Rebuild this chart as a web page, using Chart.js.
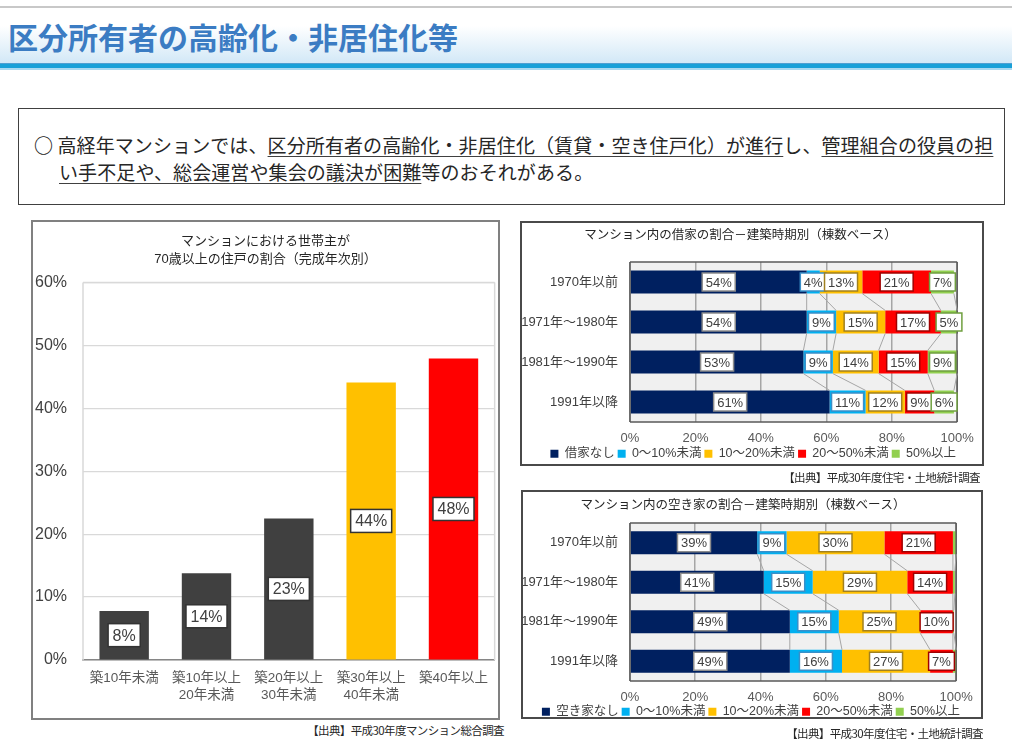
<!DOCTYPE html>
<html lang="ja">
<head>
<meta charset="utf-8">
<title>区分所有者の高齢化・非居住化等</title>
<script src="https://cdn.jsdelivr.net/npm/chart.js@4.4.1/dist/chart.umd.min.js"></script>
<style>
  html, body { margin: 0; padding: 0; background: #fff; }
  body { width: 1012px; height: 746px; position: relative; overflow: hidden;
         font-family: 'Noto Sans CJK JP', sans-serif; color: #262626; }
  .abs { position: absolute; }
  .topline { left: 0; top: 6px; width: 1012px; height: 2px; background: #c8c8c8; }
  .band { left: 0; top: 26px; width: 1012px; height: 37px; background: linear-gradient(#ffffff, #d2e8f7); }
  .rule { left: 0; top: 63px; width: 1012px; height: 4px; background: #18a0d8;
          border-top: 1px solid #4f9fd2; border-bottom: 2px solid #a9d9f1; }
  h1 { position: absolute; left: 8px; top: 14px; margin: 0; font-size: 30px; font-weight: bold;
       color: #3b7cc3; line-height: 44px; white-space: nowrap; }
  .note { left: 18px; top: 108px; width: 987px; height: 97px; box-sizing: border-box;
          border: 1.5px solid #404040; font-size: 19px; line-height: 27px; letter-spacing: 0.1px;
          padding: 22px 0 0 40px; text-indent: -25px; white-space: nowrap; }
  .note b { font-weight: bold; }
  .note u { text-decoration-color: #404040; text-underline-offset: 3px; }
  .frame { box-sizing: border-box; }
  .wrap { position: absolute; }
  .src { font-size: 11.5px; letter-spacing: -0.6px; white-space: nowrap; text-align: right; line-height: 14px; }
</style>
</head>
<body>
<div class="abs topline"></div>
<div class="abs band"></div>
<div class="abs rule"></div>
<h1>区分所有者の高齢化・非居住化等</h1>

<div class="abs note"><b>○</b> 高経年マンションでは、<u>区分所有者の高齢化・非居住化（賃貸・空き住戸化）が進行</u>し、<u>管理組合の役員の担</u><br><u>い手不足や、総会運営や集会の議決が困難</u>等のおそれがある。</div>

<div class="abs frame" style="left:31px; top:220px; width:469px; height:500px; border:2px solid #808080;"></div>
<div class="wrap" style="left:33px; top:222px; width:465px; height:496px;"><canvas id="ageChart"></canvas></div>
<div class="abs src" style="right:508px; top:723px;">【出典】平成30年度マンション総合調査</div>

<div class="abs frame" style="left:520px; top:221px; width:464px; height:245px; border:2px solid #4a4a4a;"></div>
<div class="wrap" style="left:522px; top:223px; width:460px; height:247px;"><canvas id="rentChart"></canvas></div>
<div class="abs src" style="right:32px; top:470px;">【出典】平成30年度住宅・土地統計調査</div>

<div class="abs frame" style="left:521px; top:490px; width:462px; height:229px; border:2px solid #4a4a4a;"></div>
<div class="wrap" style="left:523px; top:492px; width:458px; height:236px;"><canvas id="vacantChart"></canvas></div>
<div class="abs src" style="right:29px; top:726px;">【出典】平成30年度住宅・土地統計調査</div>

<script>
const FONT = "'Liberation Sans', 'Noto Sans CJK JP', sans-serif";
Chart.defaults.font.family = FONT;
Chart.defaults.animation = false;

// left chart: share of units whose head of household is 70+, by building age
const ageCategories = [['築10年未満'], ['築10年以上', '20年未満'], ['築20年以上', '30年未満'], ['築30年以上', '40年未満'], ['築40年以上']];
const ageValues = [7.8, 13.8, 22.5, 44.1, 47.9];
const ageColors = ['#404040', '#404040', '#404040', '#FFC000', '#FF0000'];
const ageTicks = [0, 10, 20, 30, 40, 50, 60];

// right charts: build period rows
const periods = ['1970年以前', '1971年～1980年', '1981年～1990年', '1991年以降'];
const bandNames = ['0～10%未満', '10～20%未満', '20～50%未満', '50%以上'];
const bandColors = ['#002060', '#00B0F0', '#FFC000', '#FF0000', '#92D050'];
const bandLabelBorders = ['#8c8c8c', '#3a8fc8', '#a08020', '#a00000', '#6f9f3f'];

// rented units share
const rentNone = [54, 54, 53, 61];
const rent0to10 = [4, 9, 9, 11];
const rent10to20 = [13, 15, 14, 12];
const rent20to50 = [21, 17, 15, 9];
const rent50plus = [7, 5, 9, 6];

// vacant units share
const vacNone = [39, 41, 49, 49];
const vac0to10 = [9, 15, 15, 16];
const vac10to20 = [30, 29, 25, 27];
const vac20to50 = [21, 14, 10, 7];
const vac50plus = [1, 0.6, 0.3, 1];

const pctTicks = [0, 20, 40, 60, 80, 100];

// fills the plot area before grid lines are drawn
const plotBg = {
  id: 'plotBg',
  beforeDraw(chart, args, opts) {
    if (!opts.color) return;
    const a = chart.chartArea;
    chart.ctx.save();
    chart.ctx.fillStyle = opts.color;
    chart.ctx.fillRect(a.left, a.top, a.right - a.left, a.bottom - a.top);
    chart.ctx.restore();
  }
};

// plot area border
const frame = {
  id: 'frame',
  afterDatasetsDraw(chart, args, opts) {
    const a = chart.chartArea, ctx = chart.ctx;
    ctx.save();
    ctx.strokeStyle = opts.color;
    ctx.lineWidth = opts.width;
    ctx.beginPath();
    if (opts.sides.includes('l')) { ctx.moveTo(a.left, a.bottom); ctx.lineTo(a.left, a.top); }
    if (opts.sides.includes('t')) { ctx.moveTo(a.left, a.top); ctx.lineTo(a.right, a.top); }
    if (opts.sides.includes('r')) { ctx.moveTo(a.right, a.top); ctx.lineTo(a.right, a.bottom); }
    if (opts.sides.includes('b')) { ctx.moveTo(a.right, a.bottom); ctx.lineTo(a.left, a.bottom); }
    ctx.stroke();
    ctx.restore();
  }
};

// excel style series lines between stacked bars
const seriesLines = {
  id: 'seriesLines',
  afterDatasetsDraw(chart, args, opts) {
    if (!opts.color) return;
    const ctx = chart.ctx;
    ctx.save();
    ctx.strokeStyle = opts.color;
    ctx.lineWidth = 1;
    chart.data.datasets.forEach((ds, di) => {
      const bars = chart.getDatasetMeta(di).data;
      for (let i = 0; i < bars.length - 1; i++) {
        const a = bars[i].getProps(['x', 'y', 'height'], true);
        const b = bars[i + 1].getProps(['x', 'y', 'height'], true);
        ctx.beginPath();
        ctx.moveTo(a.x, a.y + a.height / 2);
        ctx.lineTo(b.x, b.y - b.height / 2);
        ctx.stroke();
      }
    });
    ctx.restore();
  }
};

// value labels in white boxes
const boxLabels = {
  id: 'boxLabels',
  afterDatasetsDraw(chart, args, opts) {
    const ctx = chart.ctx;
    const horizontal = chart.options.indexAxis === 'y';
    ctx.save();
    ctx.font = opts.size + 'px ' + FONT;
    ctx.textAlign = 'center';
    ctx.textBaseline = 'middle';
    chart.data.datasets.forEach((ds, di) => {
      chart.getDatasetMeta(di).data.forEach((bar, i) => {
        const v = ds.data[i];
        if (v < opts.min) return;
        const p = bar.getProps(['x', 'y', 'base'], true);
        const cx = horizontal ? (p.x + p.base) / 2 : p.x;
        const cy = horizontal ? p.y : (p.y + p.base) / 2;
        const text = Math.round(v) + '%';
        const w = ctx.measureText(text).width + opts.padX * 2;
        const h = opts.size + opts.padY * 2;
        ctx.fillStyle = '#ffffff';
        ctx.fillRect(cx - w / 2, cy - h / 2, w, h);
        ctx.lineWidth = 1.5;
        ctx.strokeStyle = ds.labelBorder || opts.border;
        ctx.strokeRect(cx - w / 2, cy - h / 2, w, h);
        ctx.fillStyle = '#404040';
        ctx.fillText(text, cx, cy + 1);
      });
    });
    ctx.restore();
  }
};

new Chart(document.getElementById('ageChart'), {
  type: 'bar',
  data: {
    labels: ageCategories,
    datasets: [{ data: ageValues, backgroundColor: ageColors, barPercentage: 0.6, categoryPercentage: 1 }]
  },
  options: {
    responsive: true,
    maintainAspectRatio: false,
    layout: { padding: 0 },
    plugins: {
      legend: { display: false },
      tooltip: { enabled: false },
      title: {
        display: true,
        text: ['マンションにおける世帯主が', '70歳以上の住戸の割合（完成年次別）'],
        font: { size: 13, weight: 'normal', lineHeight: 1.4 },
        color: '#262626',
        padding: { top: 10, bottom: 14 }
      },
      frame: { color: '#d9d9d9', width: 1.5, sides: 'ltr' },
      boxLabels: { size: 16, padX: 4.5, padY: 3.5, min: 0, border: '#333333' }
    },
    scales: {
      x: {
        grid: { display: false, drawTicks: false },
        border: { display: true, color: '#868686', width: 1.5 },
        ticks: { font: { size: 13.5, lineHeight: 1.25 }, color: '#595959', padding: 10, maxRotation: 0, autoSkip: false },
        afterFit(s) { s.height = 58; }
      },
      y: {
        min: ageTicks[0],
        max: ageTicks[ageTicks.length - 1],
        afterBuildTicks(s) { s.ticks = ageTicks.map(v => ({ value: v })); },
        ticks: { callback: v => v + '%', font: { size: 16 }, color: '#404040', padding: 16 },
        grid: { color: '#d9d9d9', lineWidth: 1.2, drawTicks: false },
        border: { display: false },
        afterFit(s) { s.width = 50; }
      }
    }
  },
  plugins: [frame, boxLabels]
});

function stackedConfig(title, firstName, series, opts) {
  const names = [firstName].concat(bandNames);
  return {
    type: 'bar',
    data: {
      labels: periods,
      datasets: series.map((vals, k) => ({
        label: names[k],
        data: vals,
        backgroundColor: bandColors[k],
        borderWidth: 0,
        labelBorder: bandLabelBorders[k],
        barPercentage: 0.58,
        categoryPercentage: 1
      }))
    },
    options: {
      indexAxis: 'y',
      responsive: true,
      maintainAspectRatio: false,
      layout: { padding: { right: opts.padRight } },
      plugins: {
        tooltip: { enabled: false },
        title: {
          display: true,
          text: title,
          font: { size: 12.5, weight: 'normal', lineHeight: 1.2 },
          color: '#262626',
          padding: { top: opts.titleTop, bottom: opts.titleBottom }
        },
        legend: {
          position: 'bottom',
          align: 'end',
          labels: { boxWidth: 8, boxHeight: 8, font: { size: 12.5 }, color: '#404040', padding: 3 }
        },
        plotBg: { color: '#f0f0f0' },
        frame: { color: '#595959', width: 1.5, sides: 'ltrb' },
        seriesLines: { color: '#a6a6a6' },
        boxLabels: { size: 13, padX: 3.5, padY: 2.5, min: 3 }
      },
      scales: {
        x: {
          stacked: true,
          min: 0,
          max: 100,
          afterBuildTicks(s) { s.ticks = pctTicks.map(v => ({ value: v })); },
          ticks: { callback: v => v + '%', font: { size: 13 }, color: '#595959', padding: 8.2 },
          grid: { color: '#a6a6a6', lineWidth: 1.5, drawTicks: false },
          border: { display: false },
          afterFit(s) { s.height = opts.xHeight; }
        },
        y: {
          stacked: true,
          ticks: { font: { size: 13 }, color: '#404040', padding: 12 },
          grid: { display: false, drawTicks: false },
          border: { display: false },
          afterFit(s) { s.width = opts.yWidth; }
        }
      }
    },
    plugins: [plotBg, frame, seriesLines, boxLabels]
  };
}

new Chart(document.getElementById('rentChart'), stackedConfig(
  'マンション内の借家の割合－建築時期別（棟数ベース）', '借家なし',
  [rentNone, rent0to10, rent10to20, rent20to50, rent50plus],
  { padRight: 23, titleTop: 5.5, titleBottom: 18.5, xHeight: 22.5, yWidth: 108 }
));

new Chart(document.getElementById('vacantChart'), stackedConfig(
  'マンション内の空き家の割合－建築時期別（棟数ベース）', '空き家なし',
  [vacNone, vac0to10, vac10to20, vac20to50, vac50plus],
  { padRight: 18, titleTop: 6.5, titleBottom: 9.5, xHeight: 21.5, yWidth: 107 }
));
</script>
</body>
</html>
